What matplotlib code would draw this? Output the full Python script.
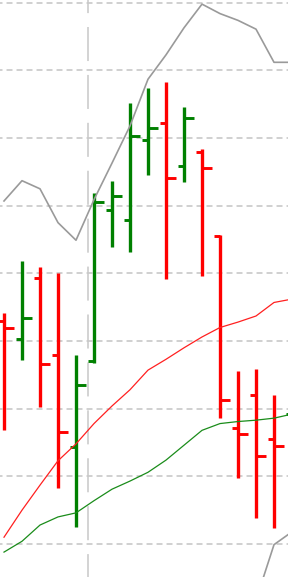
import numpy as np
import matplotlib
matplotlib.use("Agg")
import matplotlib.pyplot as plt

plt.rcParams["lines.scale_dashes"] = False

# OHLC bars, one per period
opens = [103.30, 103.03, 103.93, 102.79, 101.43, 102.71, 104.94, 104.79, 105.97,
         106.22, 105.59, 105.79, 104.55, 101.71, 102.20, 101.55, 101.92]
highs = [103.41, 104.18, 104.09, 104.01, 102.79, 105.19, 105.37, 106.52, 106.74,
         106.83, 106.46, 105.84, 104.57, 102.56, 102.59, 102.20, 102.28]
lows = [101.69, 102.72, 102.03, 100.83, 100.25, 102.68, 104.39, 104.32, 105.45,
        103.92, 105.35, 103.96, 101.86, 100.98, 100.38, 100.24, 101.54]
closes = [103.19, 103.34, 102.66, 101.66, 102.35, 105.06, 105.14, 106.03, 106.15,
          105.41, 106.30, 105.56, 102.13, 101.63, 101.30, 101.45, 102.13]

# overlays
upper_band = [105.07, 105.37, 105.25, 104.75, 104.49, 105.09, 105.63, 106.18, 106.87,
              107.23, 107.63, 107.98, 107.84, 107.74, 107.61, 107.12, 107.12]
lower_band = [np.nan] * 14 + [99.17, 99.99, 100.18]
ma_red = [100.10, 100.50, 100.87, 101.23, 101.48, 101.78, 102.04, 102.28, 102.57,
          102.73, 102.90, 103.06, 103.20, 103.28, 103.37, 103.57, 103.62]
ma_green = [99.88, 100.04, 100.28, 100.40, 100.46, 100.64, 100.81, 100.93, 101.06,
            101.24, 101.46, 101.68, 101.78, 101.81, 101.83, 101.86, 101.92]

grid_levels = [100, 101, 102, 103, 104, 105, 106, 107, 108]
session_break = 4.667

UP = "#008000"
DOWN = "#ff0000"


def main():
    fig = plt.figure(figsize=(2.88, 5.77), dpi=100)
    ax = fig.add_axes([0, 0, 1, 1])
    ax.set_axis_off()

    for lvl in grid_levels:
        ax.axhline(lvl, color="#c4c4c4", linewidth=1.1,
                   linestyle=(2.5, (4.3, 2.9)), zorder=0)
    ax.axvline(session_break, color="#c8c8c8", linewidth=1.1,
               linestyle=(8, (24.5, 10)), zorder=0)

    x = np.arange(len(opens))
    o = np.array(opens)
    c = np.array(closes)
    colors = [UP if cc >= oo else DOWN for oo, cc in zip(o, c)]

    ax.vlines(x, lows, highs, colors=colors, linewidth=2.4,
              capstyle="butt", zorder=2)
    ax.hlines(o, x - 0.36, x, colors=colors, linewidth=2.1,
              capstyle="butt", zorder=2)
    ax.hlines(c, x, x + 0.58, colors=colors, linewidth=2.1,
              capstyle="butt", zorder=2)

    ax.plot(x, upper_band, color="#9a9a9a", linewidth=1.2, zorder=3)
    ax.plot(x, lower_band, color="#9a9a9a", linewidth=1.2, zorder=3)
    ax.plot(x, ma_red, color="#ff2020", linewidth=0.9, zorder=3)
    ax.plot(x, ma_green, color="#1a8c1a", linewidth=0.9, zorder=3)

    ax.set_xlim(-4 / 18, 284 / 18)
    ax.set_ylim(99.512, 108.041)

    fig.savefig("out.png", dpi=100, facecolor="white")
    plt.close(fig)


if __name__ == "__main__":
    main()
